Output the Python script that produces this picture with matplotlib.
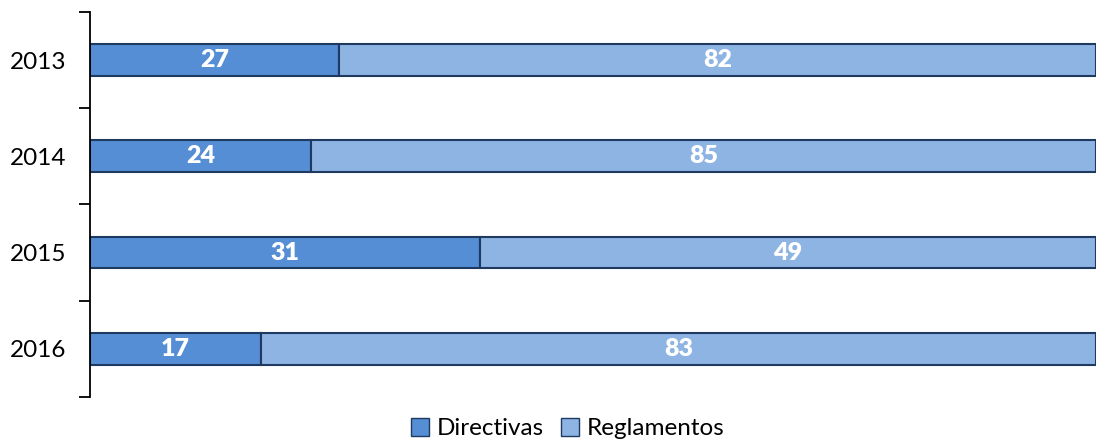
"""Directivas vs Reglamentos — 100% stacked horizontal bars per year."""

import numpy as np
import matplotlib
matplotlib.use("Agg")
import matplotlib.pyplot as plt
from matplotlib.patches import Patch

years = ["2013", "2014", "2015", "2016"]
directivas = [27, 24, 31, 17]
reglamentos = [82, 85, 49, 83]

plt.rcParams["font.family"] = ["Lato", "DejaVu Sans"]

c_dir = "#558ED5"
c_reg = "#8EB4E3"
edge = "#1F3A60"

d = np.array(directivas, dtype=float)
r = np.array(reglamentos, dtype=float)
tot = d + r
d_share = d / tot
r_share = r / tot
pos = np.arange(len(years))

fig = plt.figure(figsize=(10.96, 4.44), dpi=100)
ax = fig.add_axes([0.0821, 0.106, 0.9179, 0.867])

bh = 0.33
ax.barh(pos, d_share, height=bh, color=c_dir, edgecolor=edge, linewidth=1.5)
ax.barh(pos, r_share, left=d_share, height=bh, color=c_reg, edgecolor=edge, linewidth=1.5)

for i in range(len(years)):
    ax.text(d_share[i] / 2, pos[i], str(directivas[i]), ha="center", va="center",
            color="white", fontsize=18, fontweight="heavy")
    ax.text(d_share[i] + r_share[i] / 2, pos[i], str(reglamentos[i]), ha="center",
            va="center", color="white", fontsize=18, fontweight="heavy")

ax.set_xlim(0, 1.0)
ax.set_ylim(len(years) - 0.5, -0.5)
ax.set_yticks(np.arange(-0.5, len(years), 1.0))
ax.set_yticklabels([])
ax.set_yticks(pos, minor=True)
ax.set_yticklabels(years, minor=True, fontsize=17.5)
ax.tick_params(axis="y", which="major", length=8, width=1.3, direction="out")
ax.tick_params(axis="y", which="minor", length=0, pad=17)
ax.set_xticks([])
for s in ["top", "right", "bottom"]:
    ax.spines[s].set_visible(False)
ax.spines["left"].set_linewidth(1.3)

handles = [Patch(facecolor=c_dir, edgecolor=edge, label="Directivas"),
           Patch(facecolor=c_reg, edgecolor=edge, label="Reglamentos")]
fig.legend(handles=handles, loc="center", bbox_to_anchor=(0.518, 0.035), ncol=2,
           frameon=False, fontsize=17.5, handlelength=0.75, handleheight=0.75,
           handletextpad=0.3, columnspacing=0.7)

fig.savefig("out.png", dpi=100)
